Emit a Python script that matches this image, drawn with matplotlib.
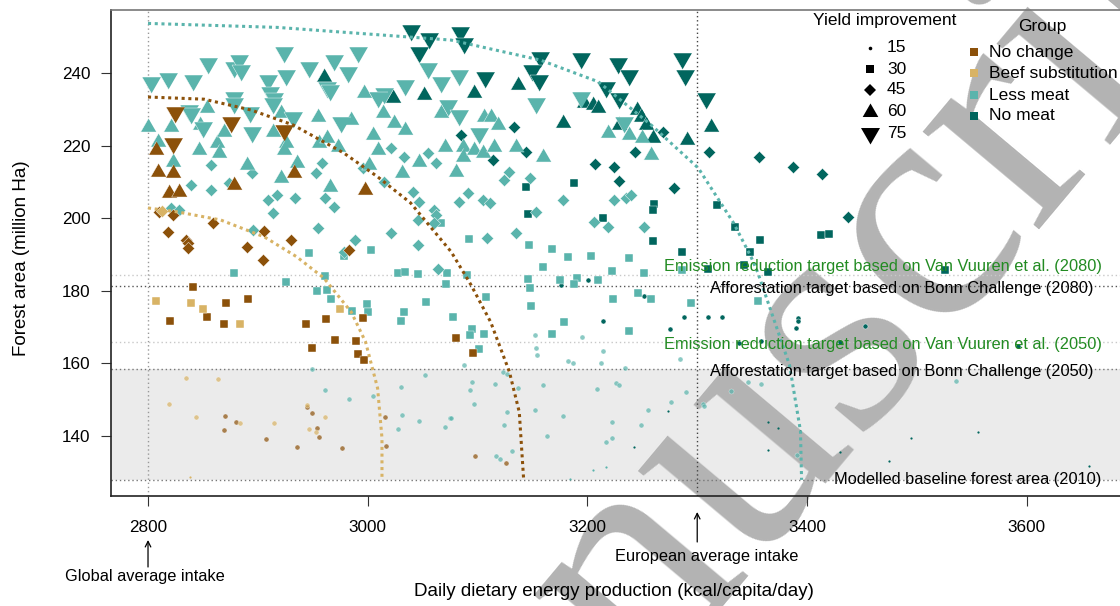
import matplotlib
matplotlib.use('Agg')
import matplotlib.pyplot as plt

plt.rcParams['font.family'] = ['Liberation Sans', 'DejaVu Sans']

# ---- data ----
group_names = ['No change', 'Beef substitution', 'Less meat', 'No meat']
group_colors = ['#8c510a', '#d8b365', '#5ab4ac', '#01665e']
yield_levels = [15, 30, 45, 60, 75]

# No change
nc_x15 = [2870, 2880, 2869, 2907, 2936, 2945, 2949, 2954, 2956, 2977, 3016, 3017, 3098, 3126]
nc_y15 = [145.5, 143.9, 141.7, 139.2, 136.9, 148.0, 146.3, 142.2, 139.7, 136.7, 145.2, 137.2, 134.5, 132.5]
nc_x30 = [2841, 2820, 2854, 2871, 2891, 2869, 2944, 2962, 2949, 2970, 2989, 2996, 2991, 2997, 3080, 3096]
nc_y30 = [181.1, 171.7, 172.8, 176.7, 177.8, 170.9, 170.9, 172.3, 164.3, 166.5, 166.2, 172.6, 162.6, 161.0, 167.0, 162.9]
nc_x45 = [2810, 2818, 2835, 2836, 2836, 2859, 2890, 2906, 2930, 2905, 2983, 2823]
nc_y45 = [201.8, 196.3, 194.1, 193.2, 191.9, 198.8, 192.1, 196.6, 194.1, 188.6, 191.3, 201.0]
nc_x60 = [2807, 2809, 2823, 2819, 2828, 2878, 2933, 2998]
nc_y60 = [218.9, 212.8, 212.6, 207.0, 207.3, 209.2, 212.6, 207.9]
nc_x75 = [2825, 2823, 2876, 2924]
nc_y75 = [229.4, 220.8, 226.6, 224.4]

# Beef substitution
bs_x15 = [2835, 2864, 2819, 2844, 2884, 2915, 2945, 2961, 2947, 2953]
bs_y15 = [156.0, 155.7, 148.8, 145.2, 143.6, 143.6, 148.6, 145.2, 141.9, 141.1]
bs_x30 = [2807, 2839, 2850, 2884, 2975]
bs_y30 = [177.2, 176.7, 175.0, 170.9, 175.0]
bs_x45 = [2813]
bs_y45 = [202.1]

# Less meat
lm_x15 = [2949, 2961, 2983, 3005, 3030, 3052, 3031, 3047, 3028, 3070, 3075, 3152, 3195, 3153, 3154,
          3214, 3182, 3187, 3212, 3284, 3088, 3234, 3123, 3127, 3095, 3093, 3116, 3137, 3160, 3209,
          3226, 3229, 3290, 3346, 3358, 3331, 3097, 3127, 3152, 3178, 3255, 3276, 3305, 3306, 3124,
          3222, 3249, 3163, 3222, 3217, 3131, 3117, 3120, 3076, 3536, 3391]
lm_y15 = [158.5, 152.7, 150.2, 151.0, 153.5, 156.8, 145.8, 144.1, 141.9, 142.5, 145.0, 167.9, 167.3, 164.3, 162.3,
          163.4, 160.7, 160.1, 160.1, 161.2, 159.6, 158.7, 157.7, 157.1, 154.9, 152.7, 154.3, 153.2, 154.1, 153.0,
          154.6, 154.1, 152.1, 154.9, 154.3, 152.4, 148.8, 146.6, 147.2, 145.5, 147.2, 149.4, 148.8, 148.3, 143.0,
          143.9, 143.0, 140.0, 139.4, 138.3, 135.9, 134.5, 133.6, 145.0, 155.2, 134.8]
lm_x30 = [2947, 3003, 3067, 3092, 3147, 3168, 3182, 3203, 3238, 2878, 2926, 2961, 2954, 2963, 2967,
          2986, 2999, 3000, 3028, 3034, 3046, 3072, 3071, 3053, 3033, 3030, 2978, 3160, 3222, 3252,
          3286, 3146, 3175, 3191, 3188, 3210, 3148, 3090, 3108, 3149, 3223, 3246, 3258, 3294, 3355,
          3078, 3179, 3238, 3095, 3093, 3106, 3168, 3101]
lm_y30 = [190.5, 191.3, 198.8, 194.4, 192.7, 191.6, 189.4, 189.7, 189.1, 184.9, 182.5, 184.1, 180.0, 180.3, 177.8,
          174.5, 176.4, 174.2, 184.9, 185.2, 184.7, 184.9, 182.0, 177.0, 174.2, 171.7, 189.7, 186.6, 185.5, 184.9,
          185.8, 183.3, 183.0, 183.6, 182.0, 183.0, 180.8, 184.4, 178.4, 175.9, 177.8, 179.4, 177.8, 176.7, 177.2,
          172.8, 171.4, 169.0, 169.5, 167.9, 168.1, 168.1, 164.0]
lm_x45 = [2839, 2857, 2857, 2895, 2874, 2821, 2828, 2909, 2917, 2914, 2934, 2958, 2953, 2961, 2969,
          2955, 2896, 2988, 2978, 2996, 3015, 3021, 3033, 3021, 3041, 3047, 3046, 3046, 3055, 3062,
          3060, 3062, 3060, 3129, 3124, 3148, 3091, 3083, 3105, 3111, 3153, 3178, 3224, 3235, 3240,
          3109, 3135, 3206, 3219, 3252, 3064]
lm_y45 = [209.2, 207.9, 214.8, 212.6, 209.8, 202.9, 202.4, 205.1, 206.5, 201.5, 205.7, 215.3, 212.6, 205.7, 203.2,
          197.4, 196.8, 194.1, 190.8, 213.9, 210.1, 219.5, 217.0, 196.0, 207.3, 204.6, 199.6, 192.7, 218.1, 215.3,
          202.4, 201.0, 198.8, 212.8, 210.6, 211.2, 207.0, 204.6, 205.1, 204.3, 201.8, 205.1, 205.1, 205.7, 206.5,
          194.6, 196.0, 199.0, 197.7, 197.7, 186.1]
lm_x60 = [2800, 2809, 2821, 2823, 2854, 2847, 2846, 2863, 2865, 2869, 2890, 2914, 2921, 2926, 2924,
          2921, 2936, 2955, 2956, 2963, 2973, 2966, 2985, 2997, 3005, 3009, 3014, 3024, 3034, 3031,
          3047, 3067, 3070, 3001, 3106, 3112, 3119, 3087, 3087, 3097, 3105, 3115, 3135, 3160, 3080,
          3219, 3238, 3250, 3258]
lm_y60 = [225.2, 221.1, 225.2, 215.6, 230.5, 225.8, 218.9, 220.8, 218.1, 223.9, 214.8, 223.9, 229.1, 220.8, 218.9,
          211.2, 215.3, 228.0, 220.8, 222.2, 219.7, 208.7, 227.2, 234.6, 223.0, 218.9, 229.1, 226.3, 224.4, 212.6,
          215.6, 229.1, 219.7, 214.8, 228.0, 228.0, 225.8, 219.7, 217.0, 218.9, 218.1, 219.7, 219.7, 217.0, 212.8,
          223.6, 223.0, 222.2, 217.5]
lm_x75 = [2803, 2818, 2841, 2855, 2878, 2883, 2885, 2924, 2909, 2926, 2911, 2915, 2914, 2878, 2878,
          2837, 2839, 2850, 2893, 2895, 2932, 2947, 2969, 2982, 2991, 2963, 2966, 2976, 3034, 3055,
          3067, 3073, 3015, 3009, 3083, 3083, 3101, 3153, 3194, 3233]
lm_y75 = [237.7, 238.8, 238.2, 242.9, 241.8, 243.7, 241.0, 245.9, 238.2, 239.6, 234.9, 233.2, 231.9, 233.5, 231.9,
          229.9, 229.1, 225.2, 229.4, 223.9, 228.0, 241.8, 243.7, 240.4, 245.9, 236.3, 235.4, 226.6, 236.8, 241.5,
          237.7, 231.3, 234.6, 233.5, 239.6, 228.6, 223.6, 231.9, 233.5, 226.6]

# No meat
nm_x15 = [3176, 3201, 3252, 3214, 3275, 3288, 3310, 3323, 3338, 3358, 3392, 3392, 3390, 3453, 3430, 3592]
nm_y15 = [181.7, 183.0, 178.6, 171.7, 169.5, 172.8, 172.8, 172.8, 165.7, 166.2, 172.6, 171.7, 169.8, 170.3, 165.9, 164.8]
nm_x30 = [3144, 3188, 3146, 3214, 3261, 3260, 3260, 3286, 3318, 3334, 3357, 3348, 3413, 3420, 3310, 3343, 3364, 3526]
nm_y30 = [208.7, 209.8, 201.3, 200.1, 204.0, 202.4, 193.8, 190.8, 203.7, 197.7, 194.1, 190.8, 195.4, 195.7, 186.1, 187.2, 185.2, 185.8]
nm_x45 = [3085, 3133, 3144, 3114, 3207, 3224, 3229, 3243, 3269, 3279, 3311, 3356, 3387, 3414, 3437]
nm_y45 = [223.0, 225.2, 218.4, 216.1, 215.0, 214.2, 210.4, 218.4, 223.9, 208.4, 218.4, 217.0, 214.2, 212.3, 200.4]
nm_x60 = [2960, 3051, 3023, 3097, 3137, 3178, 3197, 3205, 3210, 3245, 3249, 3253, 3229, 3260, 3291, 3313]
nm_y60 = [239.0, 234.1, 233.2, 234.6, 236.8, 226.3, 231.9, 231.3, 230.5, 229.9, 228.0, 225.8, 225.8, 222.2, 221.7, 225.2]
nm_x75 = [3039, 3056, 3047, 3084, 3088, 3107, 3157, 3150, 3156, 3194, 3228, 3238, 3217, 3229, 3286, 3289, 3308]
nm_y75 = [252.0, 249.8, 245.9, 251.5, 248.4, 239.0, 244.6, 241.0, 238.2, 244.3, 242.9, 239.6, 236.3, 233.2, 244.3, 239.6, 233.2]

# very small yield-15 points
bs_tiny_x = [2838]
bs_tiny_y = [128.7]
lm_tiny_x = [3205, 3217, 3184]
lm_tiny_y = [130.6, 131.4, 128.1]
nm_tiny_x = [3273, 3242, 3364, 3374, 3364, 3495, 3556, 3430, 3475, 3657, 3394]
nm_tiny_y = [146.9, 136.9, 143.9, 142.2, 136.1, 139.4, 141.1, 135.6, 133.1, 131.7, 141.4]

# frontier curves
tan_curve_x = [2800, 2827, 2866, 2906, 2935, 2960, 2985, 2998, 3009, 3013, 3013]
tan_curve_y = [202.9, 201.8, 199.6, 194.9, 189.5, 183.6, 174.2, 166.0, 153.2, 139.4, 127.9]
brown_curve_x = [2800, 2851, 2894, 2932, 2978, 3009, 3039, 3076, 3094, 3112, 3129, 3138, 3142]
brown_curve_y = [233.5, 232.9, 229.9, 225.8, 218.1, 211.5, 204.3, 190.8, 181.7, 171.4, 157.7, 146.6, 127.9]
teal_curve_x = [2800, 2918, 3076, 3157, 3210, 3258, 3301, 3333, 3349, 3355, 3384, 3394, 3395]
teal_curve_y = [253.8, 252.7, 249.2, 243.7, 237.7, 225.8, 213.9, 198.8, 189.4, 185.2, 159.6, 141.4, 127.9]

# reference lines
baseline_forest = 127.9
bonn_2050, bonn_2080 = 158.6, 181.3
vuuren_2050, vuuren_2080 = 165.9, 184.3
global_intake, european_intake = 2800, 3300

# ---- figure ----
W, H = 1120, 606
fig = plt.figure(figsize=(W / 100, H / 100), dpi=100)
ax = fig.add_axes([111 / W, 1 - 496 / H, 1031.4 / W, 486 / H])
ax.set_facecolor('none')

tri_up = [(0, 1), (-0.866, -0.5), (0.866, -0.5)]
tri_dn = [(0, -1), (-0.866, 0.5), (0.866, 0.5)]
shapes = {15: ('o', 3.6), 30: ('s', 5.6), 45: ('D', 6.3), 60: (tri_up, 13), 75: (tri_dn, 15.8)}

points = {
    'No change': [(nc_x15, nc_y15), (nc_x30, nc_y30), (nc_x45, nc_y45), (nc_x60, nc_y60), (nc_x75, nc_y75)],
    'Beef substitution': [(bs_x15, bs_y15), (bs_x30, bs_y30), (bs_x45, bs_y45), ([], []), ([], [])],
    'Less meat': [(lm_x15, lm_y15), (lm_x30, lm_y30), (lm_x45, lm_y45), (lm_x60, lm_y60), (lm_x75, lm_y75)],
    'No meat': [(nm_x15, nm_y15), (nm_x30, nm_y30), (nm_x45, nm_y45), (nm_x60, nm_y60), (nm_x75, nm_y75)],
}
col = dict(zip(group_names, group_colors))

# shaded band and reference lines
ax.axhspan(baseline_forest, bonn_2050, color='#ebebeb', lw=0, zorder=0.2)
for yv, c in [(baseline_forest, '#777777'), (bonn_2050, '#777777'), (bonn_2080, '#555555'),
              (vuuren_2050, '#c8c8c8'), (vuuren_2080, '#c8c8c8')]:
    ax.axhline(yv, color=c, lw=1, ls=(0, (1, 2)), zorder=0.6)
ax.axvline(global_intake, color='#999999', lw=1, ls=(0, (1, 2)), zorder=0.6)
ax.axvline(european_intake, color='#444444', lw=1, ls=(0, (1, 2)), zorder=0.6)

# watermark
ax.text(0.7536, 0.2558, 'Manuscript', transform=fig.transFigure, rotation=50, rotation_mode='anchor',
        ha='center', va='baseline', fontsize=238, family='Liberation Serif', color='#b3b3b3',
        zorder=0.5, clip_on=False)

# curves
ax.plot(tan_curve_x, tan_curve_y, color='#d8b365', lw=2.2, ls=(0, (1, 1.2)), zorder=3)
ax.plot(brown_curve_x, brown_curve_y, color='#8c510a', lw=2.2, ls=(0, (1, 1.2)), zorder=3)
ax.plot(teal_curve_x, teal_curve_y, color='#5ab4ac', lw=2.2, ls=(0, (1, 1.2)), zorder=3)

# points
for g in ['No meat', 'Less meat', 'No change', 'Beef substitution']:
    for yl, (xs, ys) in zip(yield_levels, points[g]):
        if not xs:
            continue
        mk, ms = shapes[yl]
        a = 0.7 if (yl == 15 and g != 'No meat') else 1.0
        ax.scatter(xs, ys, marker=mk, s=ms ** 2, color=col[g], alpha=a,
                   edgecolors='white', linewidths=0.3, zorder=2)
for xs, ys, g in [(bs_tiny_x, bs_tiny_y, 'Beef substitution'), (lm_tiny_x, lm_tiny_y, 'Less meat'),
                  (nm_tiny_x, nm_tiny_y, 'No meat')]:
    ax.scatter(xs, ys, marker='o', s=1.6 ** 2, color=col[g], lw=0, zorder=2)

# annotation texts
fs_note = 11.8
ax.text(3668, 186.8, 'Emission reduction target based on Van Vuuren et al. (2080)', color='#228b22',
        fontsize=fs_note, ha='right', va='center', zorder=4)
ax.text(3661, 180.6, 'Afforestation target based on Bonn Challenge (2080)', color='black',
        fontsize=fs_note, ha='right', va='center', zorder=4)
ax.text(3668, 165.1, 'Emission reduction target based on Van Vuuren et al. (2050)', color='#228b22',
        fontsize=fs_note, ha='right', va='center', zorder=4)
ax.text(3661, 157.9, 'Afforestation target based on Bonn Challenge (2050)', color='black',
        fontsize=fs_note, ha='right', va='center', zorder=4)
ax.text(3668, 127.9, 'Modelled baseline forest area (2010)', color='black',
        fontsize=fs_note, ha='right', va='center', zorder=4)

# axes styling
ax.set_xlim(2766.3, 3705.3)
ax.set_ylim(123.45, 257.5)
ax.set_xticks([2800, 3000, 3200, 3400, 3600])
ax.set_yticks([140, 160, 180, 200, 220, 240])
ax.tick_params(axis='both', direction='out', length=7, width=0.8, color='#333333', labelsize=12.3)
ax.tick_params(axis='x', pad=10)
ax.tick_params(axis='y', pad=8)
ax.spines['right'].set_visible(False)
ax.spines['top'].set_color('#777777')
for s in ['left', 'bottom']:
    ax.spines[s].set_color('#222222')
for s in ['left', 'bottom', 'top']:
    ax.spines[s].set_linewidth(1.2)

fig.text(614 / W, 1 - 592 / H, 'Daily dietary energy production (kcal/capita/day)', fontsize=13.5,
         ha='center', va='center')
fig.text(22 / W, 1 - 258 / H, 'Forest area (million Ha)', fontsize=13.5, rotation=90,
         ha='center', va='center')

# intake arrows and labels
arrow = dict(arrowstyle='->', lw=0.9, color='black', shrinkA=0, shrinkB=0)
ax.annotate('', xy=(global_intake, 1 - 540 / H), xytext=(global_intake, 1 - 567 / H),
            xycoords=('data', 'figure fraction'), textcoords=('data', 'figure fraction'),
            arrowprops=arrow, annotation_clip=False)
fig.text(145 / W, 1 - 577 / H, 'Global average intake', fontsize=fs_note, ha='center', va='center')
ax.annotate('', xy=(european_intake, 1 - 512 / H), xytext=(european_intake, 1 - 542 / H),
            xycoords=('data', 'figure fraction'), textcoords=('data', 'figure fraction'),
            arrowprops=arrow, annotation_clip=False)
fig.text(707 / W, 1 - 556 / H, 'European average intake', fontsize=fs_note, ha='center', va='center')

# legends drawn by hand
def fpos(px, py):
    return px / W, 1 - py / H

fig.text(*fpos(885, 20), 'Yield improvement', fontsize=12.5, ha='center', va='center')
for yl, py in zip(yield_levels, [48, 69, 90, 112, 133]):
    mk, ms = shapes[yl]
    if yl == 15:
        ms = 2.6
    ax.plot(*fpos(870, py), marker=mk, ms=ms, color='black', mew=0, transform=fig.transFigure,
            clip_on=False, zorder=5)
    fig.text(*fpos(887, py), str(yl), fontsize=12.5, ha='left', va='center')

fig.text(*fpos(1042, 26), 'Group', fontsize=12.5, ha='center', va='center')
for g, py in zip(group_names, [52, 73, 95, 116]):
    ax.plot(*fpos(974, py), marker='s', ms=5.5, color=col[g], mew=0, transform=fig.transFigure,
            clip_on=False, zorder=5)
    fig.text(*fpos(989, py), g, fontsize=12.5, ha='left', va='center')

fig.savefig('out.png', dpi=100)
